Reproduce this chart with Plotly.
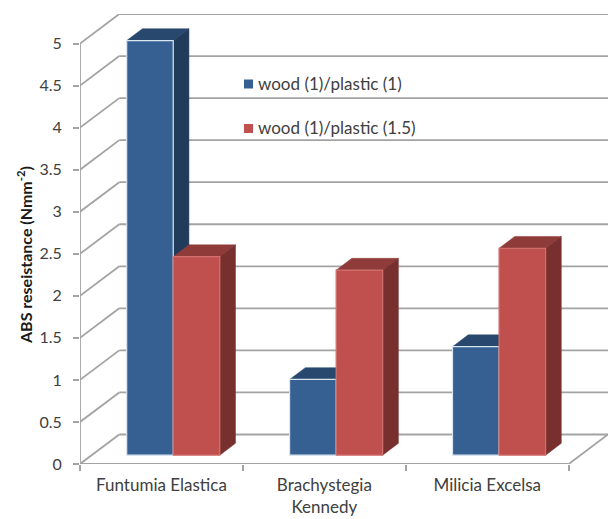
import plotly.graph_objects as go

# Chart data
categories = ["Funtumia Elastica", "Brachystegia<br>Kennedy", "Milicia Excelsa"]
series_names = ["wood (1)/plastic (1)", "wood (1)/plastic (1.5)"]
wood1_plastic1 = [4.93, 0.90, 1.29]
wood1_plastic15 = [2.36, 2.20, 2.46]
y_ticks = [0, 0.5, 1, 1.5, 2, 2.5, 3, 3.5, 4, 4.5, 5]
y_tick_labels = ["0", "0.5", "1", "1.5", "2", "2.5", "3", "3.5", "4", "4.5", "5"]

# Oblique projection: how far one full unit of depth shifts a point, in axis units
DEPTH_X = 0.241
DEPTH_Y = 0.351
BAR_NEAR = 0.30
BAR_FAR = 0.70
GAP_WIDTH = 1.5

GRID = "#a3a3a3"
TEXT = "#404040"
FONT = "Lato, Carlito, sans-serif"
PALETTE = [
    dict(front="#366092", top="#28486d", side="#213c5b", edge="#dbe5f1"),
    dict(front="#c0504d", top="#8e3b39", side="#78302e", edge="#d2716f"),
]

fig = go.Figure()


def project(x, y, depth):
    return x + depth * DEPTH_X, y + depth * DEPTH_Y


def add_line(xs, ys):
    fig.add_trace(go.Scatter(
        x=xs, y=ys, mode="lines", line=dict(color=GRID, width=1.8),
        hoverinfo="skip", showlegend=False, cliponaxis=False,
    ))


def add_face(corners, color, edge=None, name=None):
    xs = [c[0] for c in corners] + [corners[0][0]]
    ys = [c[1] for c in corners] + [corners[0][1]]
    fig.add_trace(go.Scatter(
        x=xs, y=ys, mode="lines", fill="toself", fillcolor=color,
        line=dict(color=edge or color, width=1.2 if edge else 0.5),
        name=name, hoverinfo="skip", showlegend=False, cliponaxis=False,
    ))


n_cat = len(categories)

# Back wall gridlines and the slanted lines on the side wall
for v in y_ticks:
    wx0, wy = project(0, v, 1)
    wx1, _ = project(n_cat, v, 1)
    add_line([0, wx0], [v, wy])
    add_line([wx0, wx1], [wy, wy])

# Front axis lines and the right edge of the floor
add_line([0, 0], [0, y_ticks[-1]])
add_line([0, n_cat], [0, 0])
fx, fy = project(n_cat, 0, 1)
add_line([n_cat, fx], [0, fy])

# Bars, each made of a top, a side and a front face, painted back to front
bar_w = 1 / (len(series_names) + GAP_WIDTH)
all_values = [wood1_plastic1, wood1_plastic15]
for c in range(n_cat):
    for s, values in enumerate(all_values):
        v = values[c]
        x0 = c + (GAP_WIDTH / 2 + s) * bar_w
        x1 = x0 + bar_w
        colors = PALETTE[s]
        name = series_names[s]
        add_face([project(x0, v, BAR_NEAR), project(x1, v, BAR_NEAR),
                  project(x1, v, BAR_FAR), project(x0, v, BAR_FAR)], colors["top"], name=name)
        add_face([project(x1, 0, BAR_NEAR), project(x1, 0, BAR_FAR),
                  project(x1, v, BAR_FAR), project(x1, v, BAR_NEAR)], colors["side"], name=name)
        add_face([project(x0, 0, BAR_NEAR), project(x1, 0, BAR_NEAR),
                  project(x1, v, BAR_NEAR), project(x0, v, BAR_NEAR)],
                 colors["front"], edge=colors["edge"], name=name)

# Series key placed inside the plot, as page-relative shapes and labels
W, H = 611, 519
L, T, R, B = 80, 14, 3, 55
plot_w = W - L - R
plot_h = H - T - B


def px_x(p):
    return (p - L) / plot_w


def px_y(p):
    return 1 - (p - T) / plot_h


annotations = []
shapes = []
for name, colors, cy in zip(series_names, PALETTE, [84, 128.5]):
    shapes.append(dict(
        type="rect", xref="paper", yref="paper",
        x0=px_x(244), x1=px_x(253), y0=px_y(cy - 4.5), y1=px_y(cy + 4.5),
        fillcolor=colors["front"], line=dict(width=0),
    ))
    annotations.append(dict(
        text=name, xref="paper", yref="paper", x=px_x(256), y=px_y(cy - 1),
        xanchor="left", yanchor="middle", showarrow=False,
        font=dict(family=FONT, size=17, color=TEXT),
    ))

# Value axis title
annotations.append(dict(
    text="<b>ABS reseistance (Nmm<sup>-2</sup>)</b>", xref="paper", yref="paper",
    x=px_x(24), y=px_y(255), textangle=-90, xanchor="center", yanchor="middle",
    showarrow=False, font=dict(family=FONT, size=16, color="#1a1a1a"),
))

fig.update_layout(
    width=W, height=H, autosize=False,
    margin=dict(l=L, r=R, t=T, b=B, autoexpand=False),
    paper_bgcolor="white", plot_bgcolor="white",
    showlegend=False,
    font=dict(family=FONT, size=16, color=TEXT),
    shapes=shapes, annotations=annotations,
    xaxis=dict(
        automargin=False,
        range=[0, n_cat + DEPTH_X], showgrid=False, zeroline=False, showline=False,
        tickmode="array", tickvals=[i + 0.5 for i in range(n_cat)], ticktext=categories,
        tickfont=dict(family=FONT, size=17, color=TEXT),
        ticks="", ticklen=0, ticklabelstandoff=9,
        minor=dict(tickmode="array", tickvals=list(range(n_cat + 1)),
                   ticks="outside", ticklen=6, tickcolor=GRID, tickwidth=1.8, showgrid=False),
    ),
    yaxis=dict(
        automargin=False,
        range=[0, y_ticks[-1] + DEPTH_Y], showgrid=False, zeroline=False, showline=False,
        tickmode="array", tickvals=y_ticks, ticktext=y_tick_labels,
        ticks="outside", ticklen=6, tickcolor=GRID, tickwidth=1.8, ticklabelstandoff=8,
    ),
)

fig.write_html("out.html")
